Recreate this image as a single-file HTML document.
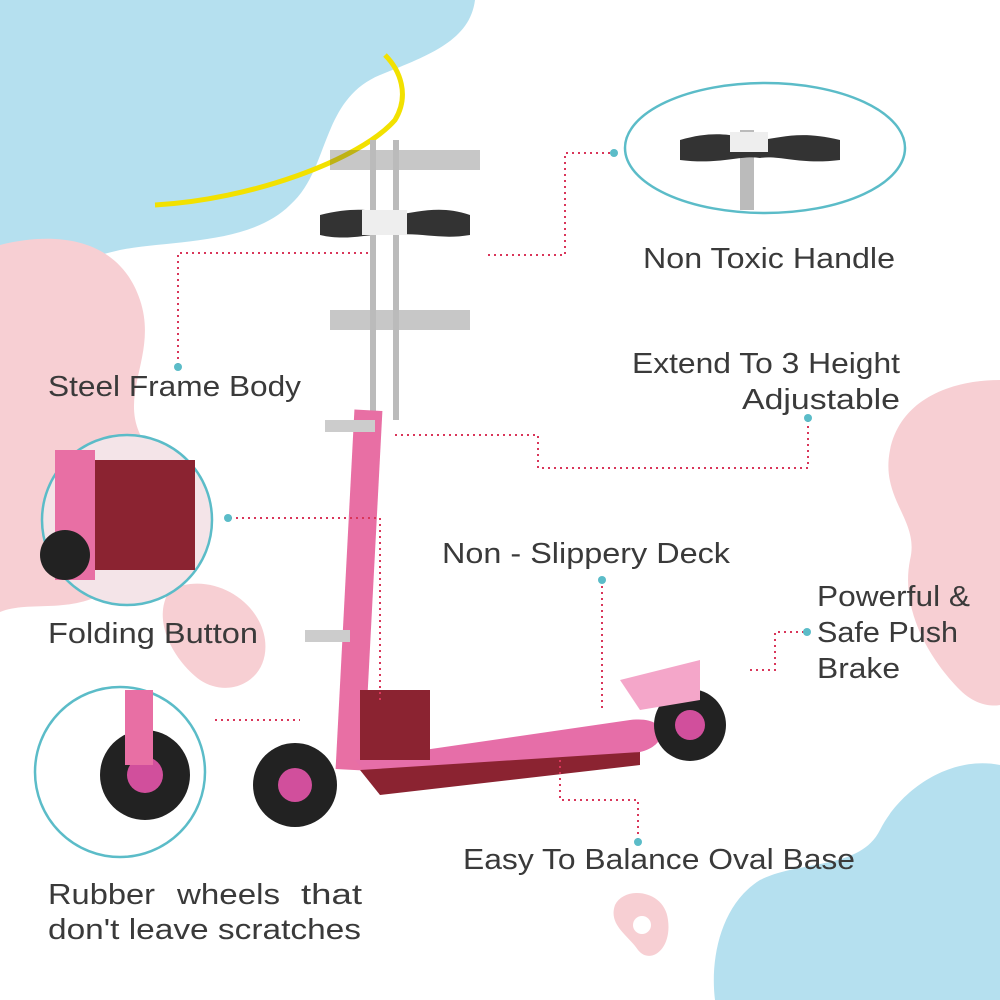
<!DOCTYPE html>
<html><head><meta charset="utf-8"><style>
html,body{margin:0;padding:0;background:#fff}
svg{display:block}
text{font-family:"Liberation Sans",sans-serif;font-size:29px;fill:#3a3a3a;font-weight:500}
</style></head><body>
<svg width="1000" height="1000" viewBox="0 0 1000 1000" xmlns="http://www.w3.org/2000/svg">
<path d="M0 0 H475 C470 40 430 55 380 75 C320 100 330 170 290 205 C250 245 170 240 120 250 C70 262 30 275 0 270 Z" fill="#b5e0ef"/>
<path d="M0 245 C60 230 120 240 140 300 C160 360 110 400 150 450 C180 500 160 560 110 590 C70 615 30 600 0 612 Z" fill="#f7cfd3"/>
<path d="M170 590 C210 570 260 600 265 640 C270 680 230 700 200 680 C175 662 150 620 170 590 Z" fill="#f7cfd3"/>
<path d="M1000 380 C950 380 900 400 890 450 C880 500 920 520 910 560 C900 610 930 660 960 690 C980 710 1000 705 1000 705 Z" fill="#f7cfd3"/>
<path d="M1000 765 C950 755 900 790 880 830 C860 870 800 860 760 880 C720 905 710 960 715 1000 H1000 Z" fill="#b5e0ef"/>
<path d="M615 905 C625 885 665 890 668 920 C672 950 650 965 638 950 C628 935 608 925 615 905 Z" fill="#f7cfd3"/>
<circle cx="642" cy="925" r="9" fill="#fff"/>
<path d="M155 205 C250 200 360 160 395 120 C410 95 400 70 385 55" stroke="#f2e100" stroke-width="5" fill="none"/>

<ellipse cx="765" cy="148" rx="140" ry="65" fill="#fff" stroke="#5bbcc8" stroke-width="2.5"/>
<circle cx="127" cy="520" r="85" fill="#f4e4e8" stroke="#5bbcc8" stroke-width="2.5"/>
<circle cx="120" cy="772" r="85" fill="#fff" stroke="#5bbcc8" stroke-width="2.5"/>
<rect x="740" y="130" width="14" height="80" fill="#bbb"/>
<path d="M680 140 C720 128 740 138 760 140 C780 138 800 130 840 140 L840 160 C800 165 780 155 760 158 C740 155 720 165 680 160 Z" fill="#333"/>
<rect x="730" y="132" width="38" height="20" fill="#eee"/>
<rect x="95" y="460" width="100" height="110" fill="#8b2331"/>
<rect x="55" y="450" width="40" height="130" fill="#e86fa4"/>
<circle cx="65" cy="555" r="25" fill="#222"/>
<circle cx="145" cy="775" r="45" fill="#222"/>
<circle cx="145" cy="775" r="18" fill="#d14f9c"/>
<rect x="125" y="690" width="28" height="75" fill="#e86fa4"/>

<g opacity="0.3">
<path d="M330 150 L480 150 L480 170 L330 170 Z" fill="#444"/>
<path d="M330 310 L470 310 L470 330 L330 330 Z" fill="#444"/>
</g>
<path d="M320 215 C360 205 380 212 395 215 C420 212 440 205 470 215 L470 235 C440 240 420 232 395 235 C370 232 350 242 320 235 Z" fill="#333"/>
<rect x="370" y="140" width="6" height="280" fill="#bbb"/>
<rect x="393" y="140" width="6" height="280" fill="#bbb"/>
<rect x="362" y="210" width="45" height="25" fill="#eee"/>
<rect x="345" y="410" width="28" height="360" fill="#e86fa4" transform="rotate(3 359 590)"/>
<rect x="325" y="420" width="50" height="12" fill="#ccc"/>
<rect x="305" y="630" width="45" height="12" fill="#ccc"/>
<path d="M355 760 L630 720 C670 715 670 745 640 752 L380 790 Z" fill="#e66ea8"/>
<path d="M360 770 L640 752 L640 765 L380 795 Z" fill="#8b2331"/>
<rect x="360" y="690" width="70" height="70" fill="#8b2331"/>
<circle cx="295" cy="785" r="42" fill="#222"/>
<circle cx="295" cy="785" r="17" fill="#d14f9c"/>
<circle cx="690" cy="725" r="36" fill="#222"/>
<circle cx="690" cy="725" r="15" fill="#d14f9c"/>
<path d="M620 680 L700 660 L700 700 L640 710 Z" fill="#f4a6c9"/>

<g stroke="#d9365a" stroke-width="2" stroke-dasharray="2,4" fill="none">
<polyline points="488,255 565,255 565,153 612,153"/>
<polyline points="178,365 178,253 372,253"/>
<polyline points="395,435 538,435 538,468 808,468 808,418"/>
<polyline points="230,518 380,518 380,700"/>
<polyline points="215,720 300,720"/>
<polyline points="602,580 602,710"/>
<polyline points="750,670 775,670 775,632 805,632"/>
<polyline points="560,760 560,800 638,800 638,840"/>
</g>
<g fill="#5bbcc8">
<circle cx="614" cy="153" r="4"/><circle cx="178" cy="367" r="4"/>
<circle cx="808" cy="418" r="4"/><circle cx="228" cy="518" r="4"/>
<circle cx="807" cy="632" r="4"/><circle cx="638" cy="842" r="4"/>
<circle cx="602" cy="580" r="4"/>
</g>

<text x="643" y="268" textLength="252" lengthAdjust="spacingAndGlyphs">Non Toxic Handle</text>
<text x="632" y="373" textLength="268" lengthAdjust="spacingAndGlyphs">Extend To 3 Height</text>
<text x="742" y="409" textLength="158" lengthAdjust="spacingAndGlyphs">Adjustable</text>
<text x="48" y="396" textLength="253" lengthAdjust="spacingAndGlyphs">Steel Frame Body</text>
<text x="48" y="643" textLength="210" lengthAdjust="spacingAndGlyphs">Folding Button</text>
<text x="442" y="563" textLength="288" lengthAdjust="spacingAndGlyphs">Non - Slippery Deck</text>
<text x="817" y="606" textLength="153" lengthAdjust="spacingAndGlyphs">Powerful &amp;</text>
<text x="817" y="642" textLength="141" lengthAdjust="spacingAndGlyphs">Safe Push</text>
<text x="817" y="678" textLength="83" lengthAdjust="spacingAndGlyphs">Brake</text>
<text x="463" y="869" textLength="392" lengthAdjust="spacingAndGlyphs">Easy To Balance Oval Base</text>
<text x="48" y="904" textLength="107" lengthAdjust="spacingAndGlyphs">Rubber</text>
<text x="177" y="904" textLength="103" lengthAdjust="spacingAndGlyphs">wheels</text>
<text x="301" y="904" textLength="61" lengthAdjust="spacingAndGlyphs">that</text>
<text x="48" y="939" textLength="313" lengthAdjust="spacingAndGlyphs">don't leave scratches</text>
</svg>
</body></html>
